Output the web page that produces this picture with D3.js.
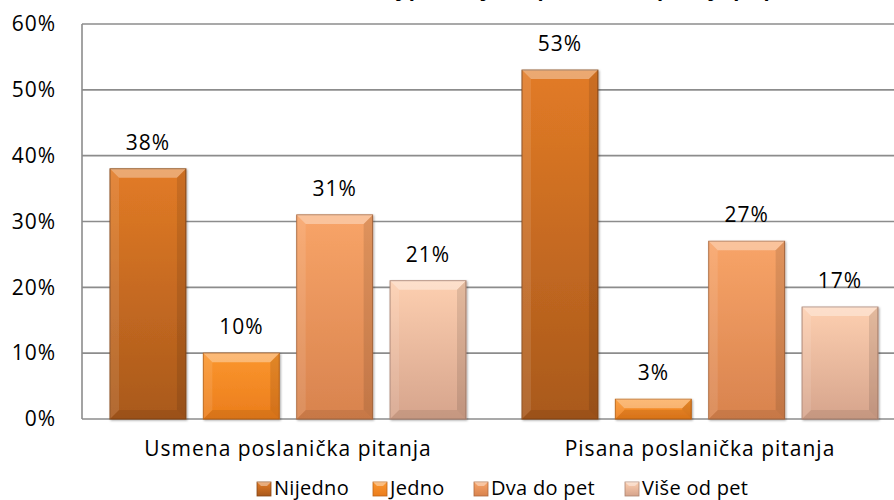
<!DOCTYPE html>
<html>
<head>
<meta charset="utf-8">
<script src="https://cdn.jsdelivr.net/npm/d3@7"></script>
<style>
  body { margin: 0; background: #fff; }
  svg { display: block; font-family: "Open Sans", sans-serif; }
</style>
</head>
<body>
<script>
const w = 894;
const h = 500;

const groups = ["Usmena poslanička pitanja", "Pisana poslanička pitanja"];
const seriesNames = ["Nijedno", "Jedno", "Dva do pet", "Više od pet"];
const nijedno = [0.38, 0.53];
const jedno = [0.10, 0.03];
const dvaDoPet = [0.31, 0.27];
const viseOdPet = [0.21, 0.17];
const yTicks = [0, 0.1, 0.2, 0.3, 0.4, 0.5, 0.6];
const title = "Broj postavljenih poslaničkih pitanja po poslaniku";

// top / bottom gradient colours for each series
const colors = [
  ["#e27b26", "#a9591c"],
  ["#fb962e", "#eb7d1c"],
  ["#f8a468", "#d8834e"],
  ["#fdcfb0", "#d6a48c"]
];

const values = [nijedno, jedno, dvaDoPet, viseOdPet];
const data = [];
groups.forEach((g, gi) => {
  seriesNames.forEach((s, si) => {
    data.push({ group: g, series: s, si: si, value: values[si][gi] });
  });
});

const svg = d3.select("body").append("svg").attr("width", w).attr("height", h);

const defs = svg.append("defs");
colors.forEach((c, i) => {
  const lg = defs.append("linearGradient").attr("id", "g" + i)
    .attr("x1", 0).attr("y1", 0).attr("x2", 0).attr("y2", 1);
  lg.append("stop").attr("offset", "0%").attr("stop-color", c[0]);
  lg.append("stop").attr("offset", "100%").attr("stop-color", c[1]);
});
const sh = defs.append("filter").attr("id", "shadow")
  .attr("x", "-20%").attr("y", "-20%").attr("width", "140%").attr("height", "140%");
sh.append("feDropShadow").attr("dx", 1).attr("dy", 1).attr("stdDeviation", 1.2)
  .attr("flood-color", "#000").attr("flood-opacity", 0.35);

const plotLeft = 82, plotTop = 24, plotBottom = 419, plotRight = 906;

const y = d3.scaleLinear().domain([0, 0.6]).range([plotBottom, plotTop]);
const x0 = d3.scaleBand().domain(groups).range([plotLeft, plotRight]).padding(0);
const x1 = d3.scaleBand().domain(seriesNames).range([0, x0.bandwidth()])
  .paddingInner(0.187).paddingOuter(0.3);

// title (mostly above the visible area, as in the original)
svg.append("text")
  .attr("x", 612).attr("y", -4)
  .attr("text-anchor", "middle")
  .attr("font-weight", "bold")
  .attr("font-size", 20)
  .text(title);

// gridlines
svg.append("g").selectAll("line").data(yTicks).join("line")
  .attr("x1", plotLeft).attr("x2", w)
  .attr("y1", d => y(d)).attr("y2", d => y(d))
  .attr("stroke", "#8c8c8c").attr("stroke-width", 1.6);
svg.append("line")
  .attr("x1", plotLeft).attr("x2", plotLeft).attr("y1", plotTop).attr("y2", plotBottom)
  .attr("stroke", "#8c8c8c").attr("stroke-width", 1.6);

// y axis
const yAxis = d3.axisLeft(y).tickValues(yTicks).tickFormat(d3.format(".0%")).tickSize(0).tickPadding(0);
svg.append("g").attr("transform", `translate(${plotLeft - 26},0)`).call(yAxis)
  .call(g => g.select(".domain").remove())
  .selectAll("text").attr("font-size", 21).attr("letter-spacing", 1).attr("fill", "#000")
  .attr("font-family", "'Open Sans', sans-serif");

// x axis labels
const xAxis = d3.axisBottom(x0).tickSize(0).tickPadding(22);
svg.append("g").attr("transform", `translate(0,${plotBottom})`).call(xAxis)
  .call(g => g.select(".domain").remove())
  .selectAll("text").attr("font-size", 21).attr("letter-spacing", 1).attr("fill", "#000")
  .attr("font-family", "'Open Sans', sans-serif");

// bars
const bars = svg.append("g").selectAll("g.bar").data(data).join("g")
  .attr("class", "bar")
  .attr("transform", d => `translate(${x0(d.group) + x1(d.series)},${y(d.value)})`);

const bw = x1.bandwidth();
bars.append("rect")
  .attr("width", bw)
  .attr("height", d => plotBottom - y(d.value))
  .attr("fill", d => `url(#g${d.si})`)
  .attr("stroke", d => d3.color(colors[d.si][1]).darker(0.6))
  .attr("stroke-width", 1)
  .attr("filter", "url(#shadow)");

// bevel: light top strip, darker sides
const bevel = (d) => Math.min(9, (plotBottom - y(d.value)) / 2);
bars.append("path")
  .attr("d", d => {
    const b = bevel(d);
    return `M0,0 L${bw},0 L${bw - b},${b} L${b},${b} Z`;
  })
  .attr("fill", "#fff").attr("opacity", 0.35);
bars.append("path")
  .attr("d", d => {
    const hh = plotBottom - y(d.value), b = bevel(d);
    return `M0,0 L${b},${b} L${b},${hh - b} L0,${hh} Z`;
  })
  .attr("fill", "#fff").attr("opacity", 0.1);
bars.append("path")
  .attr("d", d => {
    const hh = plotBottom - y(d.value), b = bevel(d);
    return `M${bw},0 L${bw - b},${b} L${bw - b},${hh - b} L${bw},${hh} Z`;
  })
  .attr("fill", "#000").attr("opacity", 0.1);
bars.append("path")
  .attr("d", d => {
    const hh = plotBottom - y(d.value), b = bevel(d);
    return `M0,${hh} L${b},${hh - b} L${bw - b},${hh - b} L${bw},${hh} Z`;
  })
  .attr("fill", "#000").attr("opacity", 0.08);

// value labels
svg.append("g").selectAll("text").data(data).join("text")
  .attr("x", d => x0(d.group) + x1(d.series) + bw / 2)
  .attr("y", d => y(d.value) - 19)
  .attr("text-anchor", "middle")
  .attr("font-size", 21)
  .attr("letter-spacing", 1)
  .text(d => d3.format(".0%")(d.value));

// legend
const legendX = [257, 373, 474, 625];
const legend = svg.append("g").selectAll("g").data(seriesNames).join("g")
  .attr("transform", (d, i) => `translate(${legendX[i]},482)`);
legend.append("rect").attr("width", 14).attr("height", 14)
  .attr("fill", (d, i) => `url(#g${i})`)
  .attr("stroke", (d, i) => d3.color(colors[i][1]).darker(0.6)).attr("stroke-width", 0.8);
legend.append("path").attr("d", "M0,0 L14,0 L10,4 L4,4 Z").attr("fill", "#fff").attr("opacity", 0.4);
legend.append("text").attr("x", 17).attr("y", 13).attr("font-size", 20).attr("letter-spacing", 0.3).text(d => d);
</script>
</body>
</html>
